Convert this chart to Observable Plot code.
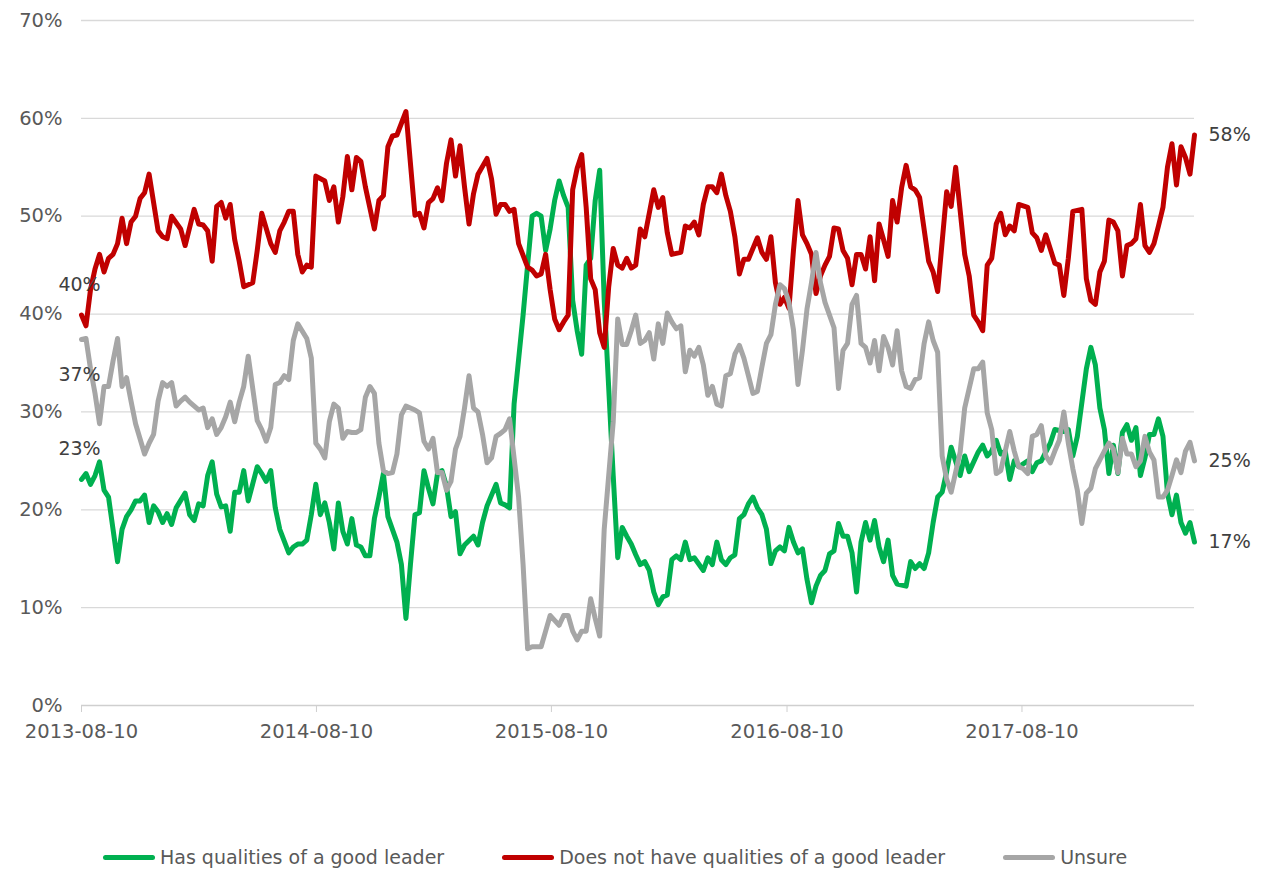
<!DOCTYPE html>
<html><head><meta charset="utf-8">
<script src="https://cdn.jsdelivr.net/npm/d3@7"></script>
<script src="https://cdn.jsdelivr.net/npm/@observablehq/plot@0.6"></script>
<style>
body{margin:0;background:#fff;font-family:"DejaVu Sans",sans-serif;}
#legend{display:flex;align-items:center;height:30px;padding-left:103px;font-size:19px;color:#595959;}
.item{display:flex;align-items:center;margin-right:58px;}
.sw{width:52px;height:5px;border-radius:3px;margin-right:5px;}
</style></head><body><div id="chart"></div><div id="legend"></div><script>
// ---- data ----
const startDate = "2013-08-10";          // week 0 of the weekly survey
const lastWeek = 247;
const xTickDates = ["2013-08-10","2014-08-10","2015-08-10","2016-08-10","2017-08-10"];
const yTicks = [0,10,20,30,40,50,60,70];
const seriesNames = ["Has qualities of a good leader","Does not have qualities of a good leader","Unsure"];
const seriesColors = ["#00b050","#c00000","#a6a6a6"];

const hasWeeks = [0,1,2,3,4,5,6,7,8,9,10,11,12,13,14,15,16,17,18,19,20,21,23,24,25,26,27,28,29,30,31,32,33,34,35,36,37,39,40,41,42,43,44,46,47,48,49,50,51,52,53,54,55,56,57,58,59,60,61,62,63,64,65,66,67,68,70,71,72,73,74,75,76,77,78,79,80,81,82,83,84,85,87,88,89,90,92,93,94,95,96,98,99,100,101,102,103,104,105,106,107,108,109,110,111,112,113,114,115,116,118,119,120,121,122,123,124,125,126,127,128,129,130,131,132,133,134,135,136,138,139,140,141,142,143,144,145,146,147,148,149,150,151,152,153,154,155,156,157,158,159,160,161,162,163,164,165,166,167,168,169,170,171,172,173,174,175,176,177,178,179,180,181,183,184,185,186,187,188,189,190,191,192,193,195,196,197,199,200,201,202,203,204,205,206,207,208,210,211,212,213,215,216,218,219,220,221,223,224,225,226,227,228,229,230,231,232,233,234,235,236,237,238,239,240,241,242,243,244,245,246,247];
const hasValues = [23.1,23.7,22.6,23.5,24.9,22.0,21.3,18.0,14.7,18.0,19.3,20.0,20.9,20.9,21.5,18.7,20.4,19.8,18.7,19.6,18.5,20.2,21.7,19.5,18.9,20.6,20.4,23.5,24.9,21.6,20.3,20.4,17.8,21.8,21.8,24.0,20.9,24.4,23.7,22.9,24.0,20.2,18.0,15.6,16.2,16.5,16.5,16.9,19.5,22.6,19.5,20.7,18.7,16.0,20.7,17.8,16.5,19.1,16.4,16.2,15.3,15.3,19.1,21.3,23.7,19.3,16.7,14.4,8.9,14.4,19.5,19.7,24.0,22.2,20.6,23.7,24.0,22.4,19.3,19.8,15.5,16.4,17.3,16.4,18.7,20.4,22.6,20.7,20.5,20.2,30.8,39.9,45.0,50.0,50.3,50.0,46.5,48.7,51.6,53.6,52.1,50.9,41.4,38.3,35.9,45.0,45.7,51.6,54.7,41.4,23.5,15.1,18.2,17.3,16.5,15.4,14.4,14.7,13.8,11.6,10.3,11.1,11.3,14.9,15.3,14.9,16.7,14.9,15.1,13.8,15.1,14.4,16.7,14.9,14.4,15.1,15.4,19.1,19.5,20.6,21.3,20.2,19.5,18.0,14.5,15.8,16.2,15.8,18.2,16.7,15.6,16.0,12.9,10.5,12.2,13.3,13.8,15.5,15.8,18.6,17.3,17.3,15.6,11.6,16.7,18.7,16.9,18.9,16.2,14.7,16.9,13.3,12.4,12.2,14.7,14.0,14.5,14.0,15.6,18.7,21.3,21.8,23.9,26.4,23.5,25.5,23.9,25.9,26.6,25.5,26.0,27.1,25.7,26.0,23.1,25.0,24.4,25.0,23.9,24.8,25.0,26.8,28.2,28.0,28.2,25.5,27.5,34.4,36.6,34.8,30.4,28.2,23.7,26.6,23.7,27.9,28.7,27.1,28.4,23.5,25.3,27.7,27.7,29.3,27.5,21.7,19.5,21.5,18.7,17.6,18.7,16.7];

const notWeeks = [0,1,2,3,4,5,6,7,8,9,10,11,12,13,14,15,17,18,19,20,22,23,25,26,27,28,29,30,31,32,33,34,35,36,38,39,40,42,43,44,45,46,47,48,49,50,51,52,54,55,56,57,58,59,60,61,62,63,65,66,67,68,69,70,72,74,75,76,77,78,79,80,81,82,83,84,85,86,87,88,90,91,92,93,94,95,96,97,99,100,101,102,103,104,105,106,107,108,109,110,111,112,113,114,115,116,117,118,119,120,121,122,123,124,125,127,128,129,130,131,133,134,135,136,137,138,139,140,141,142,143,144,145,146,147,148,150,151,152,153,154,155,156,157,158,159,160,161,162,163,164,165,166,167,168,169,170,171,172,173,174,175,176,177,178,179,180,181,182,183,184,185,186,188,189,190,192,193,194,196,197,198,199,200,201,202,203,204,205,206,207,208,210,211,212,213,214,216,217,218,219,220,222,223,224,225,226,227,228,229,230,231,232,233,234,235,236,237,238,239,240,241,242,243,244,245,246,247];
const notValues = [39.9,38.8,42.5,44.6,46.1,44.3,45.7,46.1,47.2,49.8,47.2,49.4,50.0,51.8,52.4,54.3,48.5,47.9,47.7,50.0,48.7,47.0,50.7,49.2,49.1,48.5,45.4,51.0,51.4,49.8,51.2,47.6,45.4,42.8,43.2,46.5,50.3,47.2,46.3,48.5,49.4,50.5,50.5,46.1,44.3,45.0,44.8,54.1,53.6,51.6,53.0,49.4,52.0,56.1,52.7,56.0,55.6,53.0,48.7,51.6,52.1,57.1,58.2,58.3,60.7,50.1,50.3,48.8,51.4,51.8,52.9,51.6,55.4,57.8,54.1,57.2,53.0,49.2,52.3,54.3,55.9,53.8,50.2,51.2,51.2,50.5,50.7,47.2,44.8,44.5,43.9,44.1,46.1,42.5,39.5,38.4,39.2,39.9,52.7,54.9,56.3,50.9,43.6,42.5,38.1,36.6,42.8,46.7,45.0,44.7,45.7,44.7,45.0,48.7,47.9,52.7,50.9,51.9,48.3,46.1,46.3,49.0,48.8,49.4,48.1,51.2,53.0,53.0,52.4,54.3,52.1,50.5,47.9,44.1,45.6,45.6,47.8,46.3,45.6,47.9,43.2,41.0,41.7,40.6,46.5,51.6,48.1,47.2,46.1,42.1,43.9,45.0,45.9,48.8,48.7,46.5,45.7,43.0,46.1,46.1,44.6,47.9,43.4,49.2,47.6,45.9,51.6,49.4,52.9,55.2,53.0,52.7,51.9,45.4,44.3,42.3,52.5,51.0,55.0,46.1,43.9,39.9,39.2,38.3,45.0,45.7,49.2,50.3,48.1,49.0,48.5,51.2,50.9,48.3,47.8,46.5,48.1,45.2,45.0,41.9,45.7,50.5,50.7,43.6,41.4,41.0,44.3,45.4,49.6,49.4,48.5,43.9,47.0,47.2,47.7,51.2,47.0,46.3,47.2,49.0,50.9,55.0,57.4,53.2,57.1,56.0,54.3,58.3];

const unsureWeeks = [0,1,2,3,4,5,6,7,8,9,10,11,12,14,15,16,17,18,19,20,21,22,23,24,26,27,28,29,30,31,32,33,34,35,36,37,39,40,41,42,43,44,45,46,47,48,50,51,52,53,54,55,56,57,58,59,60,61,62,63,64,65,66,67,68,69,70,71,72,74,75,76,77,78,79,80,81,82,83,84,85,86,87,88,89,90,91,92,93,94,95,96,97,98,99,100,102,103,104,105,106,107,108,109,110,111,112,113,114,115,116,118,119,120,121,122,123,124,125,126,127,128,129,130,131,132,133,134,135,136,137,138,139,140,141,142,143,144,145,146,147,148,149,150,151,152,153,154,155,156,157,158,159,160,161,162,163,164,165,167,168,169,170,171,172,173,174,175,176,177,178,179,180,181,182,183,184,185,186,187,188,189,190,191,192,193,195,196,198,199,200,201,202,203,204,206,207,208,209,210,211,212,213,214,215,216,217,218,219,220,221,222,223,224,225,226,227,228,229,230,231,232,233,234,235,236,237,238,239,240,241,242,243,244,245,246,247];
const unsureValues = [37.4,37.5,34.4,31.9,28.8,32.6,32.6,35.2,37.5,32.6,33.5,31.1,28.8,25.7,26.8,27.7,31.1,33.0,32.6,33.0,30.6,31.1,31.5,31.0,30.2,30.4,28.4,29.3,27.7,28.4,29.5,31.0,29.0,31.0,32.6,35.7,29.1,28.2,27.0,28.4,32.8,33.0,33.7,33.3,37.3,39.0,37.5,35.5,26.8,26.2,25.3,29.0,30.8,30.4,27.3,28.0,27.9,27.9,28.2,31.5,32.6,31.9,26.8,24.0,23.7,23.8,25.7,29.7,30.6,30.2,29.9,27.0,26.2,27.3,23.8,23.8,22.0,22.9,26.2,27.5,30.4,33.7,30.4,30.0,27.7,24.8,25.3,27.5,27.8,28.2,29.3,25.3,21.3,14.4,5.8,6.0,6.0,7.6,9.2,8.7,8.2,9.2,9.2,7.6,6.7,7.6,7.6,10.9,8.9,7.1,18.0,29.0,39.5,36.9,36.9,38.3,39.9,37.0,37.3,38.1,35.4,39.0,37.0,40.1,39.2,38.5,38.8,34.1,36.3,35.7,36.6,34.8,31.7,32.6,30.8,30.6,33.7,33.9,35.9,36.8,35.5,33.7,31.9,32.1,34.6,37.0,37.9,41.0,43.0,42.6,41.2,38.4,32.8,36.3,40.5,43.2,46.3,43.2,41.2,38.6,32.4,36.3,37.0,41.0,41.9,37.0,36.6,35.0,37.3,34.2,37.7,36.6,34.8,38.3,34.2,32.6,32.4,33.3,33.5,37.0,39.2,37.3,36.1,25.5,23.1,21.8,25.9,30.4,34.4,34.4,35.1,29.9,28.2,23.7,24.0,28.0,26.0,24.4,24.2,23.7,27.5,27.7,28.6,25.5,24.8,26.0,27.1,30.0,26.8,24.2,22.0,18.6,21.7,22.2,24.2,25.1,26.0,26.8,26.2,23.8,27.3,25.7,25.7,24.4,25.0,27.5,25.9,25.1,21.3,21.3,22.0,23.5,25.1,23.8,26.0,26.9,25.0];

// ---- build ----
const t0 = new Date(startDate);
const weekDate = w => d3.utcDay.offset(t0, 7 * w);
const series = [
  {name: seriesNames[0], weeks: hasWeeks, values: hasValues},
  {name: seriesNames[1], weeks: notWeeks, values: notValues},
  {name: seriesNames[2], weeks: unsureWeeks, values: unsureValues}
];
const rows = series.flatMap(s => s.weeks.map((w, i) => ({series: s.name, date: weekDate(w), value: s.values[i]})));
const firsts = series.map(s => ({series: s.name, date: weekDate(s.weeks[0]), value: s.values[0], label: Math.round(s.values[0]) + "%"}));
const lasts = series.map(s => ({series: s.name, date: weekDate(s.weeks[s.weeks.length-1]), value: s.values[s.values.length-1], label: Math.round(s.values[s.values.length-1]) + "%"}));
const startDy = {[seriesNames[0]]: -31, [seriesNames[1]]: -30, [seriesNames[2]]: 35};

const labelStyle = {fill: "#404040", fontSize: 19, fontFamily: '"DejaVu Sans", sans-serif'};
const chart = Plot.plot({
  width: 1267, height: 842,
  marginTop: 20, marginBottom: 137, marginLeft: 81, marginRight: 73,
  style: {fontFamily: '"DejaVu Sans", sans-serif', fontSize: "19.5px", color: "#595959", background: "#fff"},
  x: {type: "utc", domain: [t0, weekDate(lastWeek)], label: null},
  y: {domain: [0, 70], label: null},
  color: {domain: seriesNames, range: seriesColors},
  marks: [
    Plot.ruleY(yTicks.filter(d => d > 0), {stroke: "#d9d9d9", strokeWidth: 1.3}),
    Plot.ruleY([0], {stroke: "#cfcfcf", strokeWidth: 1.3}),
    Plot.axisY({ticks: yTicks, tickSize: 0, tickPadding: 19, tickFormat: d => d + "%", fill: "#595959", label: null}),
    Plot.axisX({ticks: xTickDates.map(d => new Date(d)), tickFormat: d3.utcFormat("%Y-%m-%d"), tickSize: 7, tickPadding: 12, stroke: "#cfcfcf", fill: "#595959", label: null}),
    ...seriesNames.map(n => Plot.lineY(rows.filter(r => r.series === n), {x: "date", y: "value", stroke: "series", strokeWidth: 5, strokeLinejoin: "round", strokeLinecap: "round"})),
    ...firsts.map(f => Plot.text([f], {x: "date", y: "value", text: "label", dx: -2, dy: startDy[f.series], textAnchor: "middle", ...labelStyle})),
    Plot.text(lasts, {x: "date", y: "value", text: "label", dx: 14, textAnchor: "start", ...labelStyle})
  ]
});
document.getElementById("chart").appendChild(chart);

const legend = document.getElementById("legend");
seriesNames.forEach((n, i) => {
  const item = document.createElement("div"); item.className = "item";
  const sw = document.createElement("div"); sw.className = "sw"; sw.style.background = seriesColors[i];
  const tx = document.createElement("span"); tx.textContent = n;
  item.appendChild(sw); item.appendChild(tx); legend.appendChild(item);
});
</script></body></html>
